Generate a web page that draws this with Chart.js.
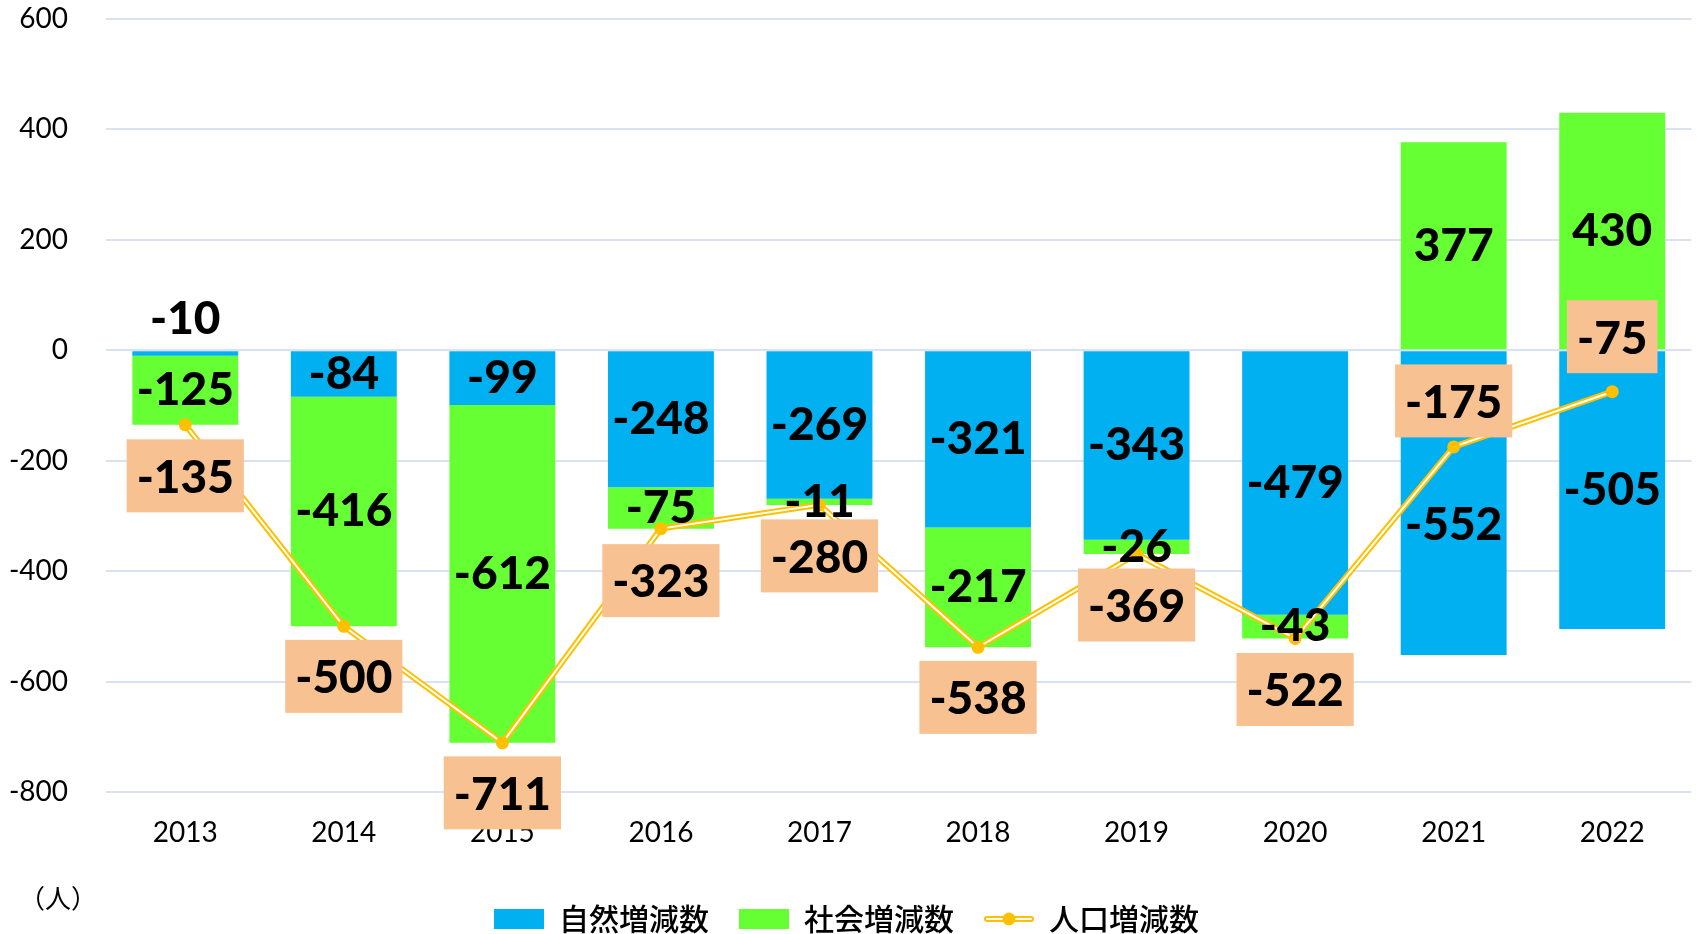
<!DOCTYPE html>
<html>
<head>
<meta charset="utf-8">
<script src="https://cdn.jsdelivr.net/npm/chart.js@4/dist/chart.umd.min.js"></script>
<style>
  html, body { margin: 0; padding: 0; background: #fff; }
  #wrap { width: 1698px; height: 934px; }
</style>
</head>
<body>
<div id="wrap"><canvas id="popChange" width="1698" height="934"></canvas></div>
<script>
const years = ['2013', '2014', '2015', '2016', '2017', '2018', '2019', '2020', '2021', '2022'];
const naturalChange = [-10, -84, -99, -248, -269, -321, -343, -479, -552, -505];
const socialChange = [-125, -416, -612, -75, -11, -217, -26, -43, 377, 430];
const totalChange = [-135, -500, -711, -323, -280, -538, -369, -522, -175, -75];
const seriesNames = ['自然増減数', '社会増減数', '人口増減数'];
const unitLabel = '（人）';

// label nudges (px), not data
const naturalLabelShift = [-34, 0, 0, 0, 0, 0, 0, 0, 22, 0];
const totalLabelShift = [51, 50, 50, 52, 51, 50, 51, 51, -46, -55];

const BLUE = '#00B0F0';
const GREEN = '#66FF33';
const GOLD = '#FFC000';
const PEACH = '#F8C192';
const LABEL_FONT = '900 46px Lato';

const drawLabel = (ctx, text, x, y) => {
    ctx.fillStyle = '#000';
    ctx.fillText(text, x, y);
};

const labelPlugin = {
    id: 'labels',
    afterDatasetsDraw(chart) {
        const ctx = chart.ctx;
        ctx.save();
        ctx.font = LABEL_FONT;
        ctx.textAlign = 'center';
        ctx.textBaseline = 'middle';

        chart.getDatasetMeta(0).data.forEach((bar, i) => {
            const p = bar.getProps(['x', 'y', 'base'], true);
            drawLabel(ctx, String(naturalChange[i]), p.x, (p.y + p.base) / 2 + naturalLabelShift[i]);
        });

        chart.getDatasetMeta(1).data.forEach((bar, i) => {
            const p = bar.getProps(['x', 'y', 'base'], true);
            drawLabel(ctx, String(socialChange[i]), p.x, (p.y + p.base) / 2);
        });

        chart.getDatasetMeta(4).data.forEach((pt, i) => {
            const p = pt.getProps(['x', 'y'], true);
            const text = String(totalChange[i]);
            const w = ctx.measureText(text).width + 20;
            const h = 73;
            const cy = p.y + totalLabelShift[i];
            ctx.fillStyle = PEACH;
            ctx.fillRect(p.x - w / 2, cy - h / 2, w, h);
            drawLabel(ctx, text, p.x, cy + 2);
        });
        ctx.restore();
    },
    afterDraw(chart) {
        const ctx = chart.ctx;
        ctx.save();
        ctx.font = '26px "Noto Sans CJK JP"';
        ctx.fillStyle = '#000';
        ctx.textAlign = 'center';
        ctx.textBaseline = 'middle';
        ctx.fillText(unitLabel, 58, 898);

        // legend marker for the line series
        const idx = chart.legend.legendItems.findIndex(it => it.datasetIndex === 2);
        const box = chart.legend.legendHitBoxes[idx];
        if (box) {
            const cy = box.top + box.height / 2;
            const x0 = box.left, x1 = box.left + 50;
            ctx.lineCap = 'round';
            ctx.strokeStyle = GOLD;
            ctx.lineWidth = 6;
            ctx.beginPath(); ctx.moveTo(x0 + 3, cy); ctx.lineTo(x1 - 3, cy); ctx.stroke();
            ctx.strokeStyle = '#fff';
            ctx.lineWidth = 2;
            ctx.beginPath(); ctx.moveTo(x0 + 3, cy); ctx.lineTo(x1 - 3, cy); ctx.stroke();
            ctx.fillStyle = GOLD;
            ctx.beginPath(); ctx.arc((x0 + x1) / 2, cy, 6.5, 0, Math.PI * 2); ctx.fill();
        }
        ctx.restore();
    }
};

const ctx = document.getElementById('popChange').getContext('2d');
const chart = new Chart(ctx, {
    type: 'bar',
    data: {
        labels: years,
        datasets: [
            {
                label: seriesNames[0],
                data: naturalChange,
                backgroundColor: BLUE,
                stack: 'bars',
                order: 3,
                barPercentage: 0.668,
                categoryPercentage: 1
            },
            {
                label: seriesNames[1],
                data: socialChange,
                backgroundColor: GREEN,
                stack: 'bars',
                order: 3,
                barPercentage: 0.668,
                categoryPercentage: 1
            },
            {
                type: 'line',
                label: seriesNames[2],
                data: totalChange,
                borderColor: GOLD,
                backgroundColor: GOLD,
                borderWidth: 6,
                pointRadius: 0,
                stack: 'line1',
                order: 2
            },
            {
                type: 'line',
                label: 'inner',
                data: totalChange,
                borderColor: '#fff',
                borderWidth: 2,
                pointRadius: 0,
                stack: 'line2',
                order: 1
            },
            {
                type: 'line',
                label: 'dots',
                data: totalChange,
                showLine: false,
                pointRadius: 6.5,
                pointBackgroundColor: GOLD,
                pointBorderWidth: 0,
                stack: 'line3',
                order: 0
            }
        ]
    },
    options: {
        responsive: false,
        animation: false,
        layout: { padding: { top: 0, right: 5, left: 0, bottom: -10 } },
        scales: {
            x: {
                stacked: true,
                grid: { display: false, drawTicks: false },
                border: { display: false },
                ticks: { color: '#000', font: { family: 'Lato', size: 28 }, padding: 24 },
                afterFit: (scale) => { scale.height = 82; }
            },
            y: {
                stacked: true,
                min: -800,
                max: 600,
                ticks: { stepSize: 200, color: '#000', font: { family: 'Lato', size: 28 }, padding: 38 },
                grid: { color: '#D9E1F2', lineWidth: 2, drawTicks: false },
                border: { display: false },
                afterFit: (scale) => {
                    scale.width = 106;
                    scale.paddingTop = 19;
                    scale.paddingBottom = 0;
                }
            }
        },
        plugins: {
            tooltip: { enabled: false },
            legend: {
                position: 'bottom',
                labels: {
                    color: '#000',
                    font: { family: '"Noto Sans CJK JP"', size: 30, weight: 500 },
                    boxWidth: 50,
                    boxHeight: 20,
                    padding: 30,
                    filter: (item) => item.datasetIndex <= 2,
                    sort: (a, b) => a.datasetIndex - b.datasetIndex,
                    generateLabels: (c) => {
                        const items = Chart.defaults.plugins.legend.labels.generateLabels(c);
                        items.forEach(it => {
                            it.lineWidth = 0;
                            it.strokeStyle = 'rgba(0,0,0,0)';
                            if (it.datasetIndex === 2) it.fillStyle = 'rgba(0,0,0,0)';
                        });
                        return items;
                    }
                }
            }
        }
    },
    plugins: [labelPlugin]
});
</script>
</body>
</html>
